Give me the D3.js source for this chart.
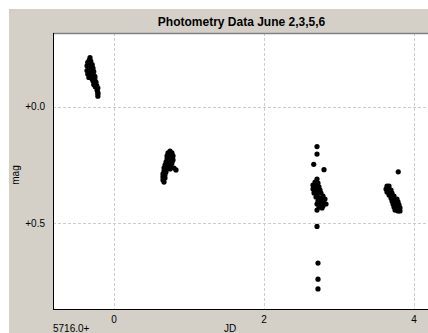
<!DOCTYPE html>
<html>
<head>
<meta charset="utf-8">
<script src="https://d3js.org/d3.v7.min.js"></script>
<style>
  html, body { margin: 0; padding: 0; background: #fff; }
  svg { display: block; }
</style>
</head>
<body>
<div id="chart"></div>
<script>
var id = '#chart'

var title = 'Photometry Data June 2,3,5,6'
var xTicks = [0, 2, 4]
var yTicks = [0.0, 0.5]
var yTickLabels = ['+0.0', '+0.5']
var xOffsetLabel = '5716.0+'
var xLabel = 'JD'
var yLabel = 'mag'

// [JD - 2455716.0, mag]
var june2 = [[-0.32,-0.21],[-0.33,-0.20],[-0.31,-0.195],[-0.35,-0.19],[-0.32,-0.185],[-0.29,-0.18],
  [-0.36,-0.175],[-0.335,-0.17],[-0.305,-0.165],[-0.28,-0.165],[-0.36,-0.155],[-0.335,-0.155],
  [-0.295,-0.15],[-0.27,-0.15],[-0.35,-0.14],[-0.31,-0.135],[-0.28,-0.135],[-0.255,-0.13],
  [-0.335,-0.125],[-0.295,-0.12],[-0.255,-0.12],[-0.28,-0.11],[-0.24,-0.105],[-0.27,-0.095],
  [-0.23,-0.09],[-0.25,-0.085],[-0.215,-0.08],[-0.225,-0.07],[-0.215,-0.06],[-0.215,-0.055],[-0.215,-0.045]]

var june3 = [[0.747,0.190],[0.72,0.198],[0.773,0.198],[0.707,0.211],[0.747,0.211],[0.787,0.211],
  [0.707,0.224],[0.747,0.224],[0.787,0.228],[0.693,0.237],[0.733,0.237],[0.773,0.241],
  [0.68,0.250],[0.72,0.250],[0.76,0.254],[0.80,0.263],[0.827,0.271],[0.667,0.263],
  [0.707,0.263],[0.747,0.267],[0.667,0.276],[0.693,0.280],[0.653,0.288],[0.68,0.293],
  [0.653,0.301],[0.68,0.306],[0.653,0.314],[0.667,0.323]]

var june5 = [[2.707,0.171],[2.707,0.203],[2.663,0.247],[2.80,0.270],
  [2.707,0.310],[2.68,0.323],[2.72,0.327],[2.653,0.336],[2.693,0.340],[2.733,0.344],
  [2.653,0.353],[2.693,0.357],[2.747,0.357],[2.667,0.370],[2.707,0.374],[2.76,0.370],
  [2.787,0.383],[2.693,0.387],[2.733,0.391],[2.773,0.396],[2.813,0.396],[2.72,0.404],
  [2.76,0.408],[2.80,0.413],[2.827,0.417],[2.707,0.417],[2.747,0.421],[2.787,0.426],
  [2.733,0.430],[2.773,0.434],[2.707,0.443],
  [2.707,0.513],[2.72,0.670],[2.72,0.739],[2.72,0.781]]

var june6 = [[3.79,0.279],
  [3.64,0.340],[3.667,0.340],[3.627,0.353],[3.667,0.353],[3.693,0.357],[3.64,0.366],
  [3.68,0.366],[3.707,0.370],[3.667,0.378],[3.707,0.378],[3.733,0.383],[3.693,0.391],
  [3.733,0.396],[3.773,0.396],[3.707,0.404],[3.747,0.408],[3.787,0.408],[3.72,0.417],
  [3.76,0.421],[3.80,0.421],[3.733,0.430],[3.773,0.434],[3.813,0.434],[3.747,0.443],
  [3.787,0.447],[3.813,0.447]]

var nights = [june2, june3, june5, june6]

var W = 428, H = 333
var plot = {left: 53, top: 33, right: 430, bottom: 309}
var font = '"Liberation Sans", Arial, sans-serif'

var x = d3.scaleLinear().domain([-0.8133, 4.2133]).range([plot.left, plot.right])
var y = d3.scaleLinear().domain([-0.3157, 0.867]).range([plot.top, plot.bottom])

var svg = d3.select(id).append('svg')
  .attr('width', W)
  .attr('height', H)

svg.append('rect')
  .attr('x', 9).attr('y', 9)
  .attr('width', W - 9).attr('height', H - 9)
  .style('fill', '#d4d0c8')

svg.append('rect')
  .attr('x', plot.left).attr('y', plot.top)
  .attr('width', plot.right - plot.left).attr('height', plot.bottom - plot.top)
  .style('fill', '#fff')

// grid
svg.selectAll('.vgrid')
  .data(xTicks)
  .enter().append('line')
  .attr('class', 'vgrid')
  .attr('x1', d => Math.round(x(d)) + 0.5).attr('x2', d => Math.round(x(d)) + 0.5)
  .attr('y1', plot.top).attr('y2', plot.bottom)
  .style('stroke', '#cccccc')
  .style('stroke-dasharray', '3,2')

svg.selectAll('.hgrid')
  .data(yTicks)
  .enter().append('line')
  .attr('class', 'hgrid')
  .attr('x1', plot.left).attr('x2', plot.right)
  .attr('y1', d => Math.round(y(d)) + 0.5).attr('y2', d => Math.round(y(d)) + 0.5)
  .style('stroke', '#cccccc')
  .style('stroke-dasharray', '3,2')

// points
var g = svg.append('g')
nights.forEach(function(night) {
  g.selectAll(null)
    .data(night)
    .enter().append('circle')
    .attr('cx', d => x(d[0]))
    .attr('cy', d => y(d[1]))
    .attr('r', 2.6)
    .style('fill', '#000')
})

// frame
svg.append('line')
  .attr('x1', plot.left).attr('x2', plot.right)
  .attr('y1', plot.top + 0.5).attr('y2', plot.top + 0.5)
  .style('stroke', '#808080').style('stroke-width', 1.5)
svg.append('line')
  .attr('x1', plot.left + 0.5).attr('x2', plot.left + 0.5)
  .attr('y1', plot.top).attr('y2', plot.bottom)
  .style('stroke', '#000')
svg.append('line')
  .attr('x1', plot.left).attr('x2', plot.right)
  .attr('y1', plot.bottom + 0.5).attr('y2', plot.bottom + 0.5)
  .style('stroke', '#000')

// texts
svg.append('text')
  .attr('x', (plot.left + plot.right) / 2)
  .attr('y', 26)
  .attr('text-anchor', 'middle')
  .style('font-family', font)
  .style('font-size', '12px')
  .style('font-weight', 'bold')
  .text(title)

svg.selectAll('.xlab')
  .data(xTicks)
  .enter().append('text')
  .attr('x', d => x(d))
  .attr('y', 323)
  .attr('text-anchor', 'middle')
  .style('font-family', font)
  .style('font-size', '10px')
  .text(d => d)

svg.selectAll('.ylab')
  .data(yTicks)
  .enter().append('text')
  .attr('x', 45)
  .attr('y', d => y(d))
  .attr('dy', '0.35em')
  .attr('text-anchor', 'end')
  .style('font-family', font)
  .style('font-size', '10px')
  .text((d, i) => yTickLabels[i])

svg.append('text')
  .attr('x', plot.left)
  .attr('y', 332)
  .style('font-family', font)
  .style('font-size', '10px')
  .text(xOffsetLabel)

svg.append('text')
  .attr('x', 230)
  .attr('y', 332)
  .attr('text-anchor', 'middle')
  .style('font-family', font)
  .style('font-size', '10px')
  .text(xLabel)

svg.append('text')
  .attr('transform', 'translate(19,175) rotate(-90)')
  .attr('text-anchor', 'middle')
  .style('font-family', font)
  .style('font-size', '10px')
  .text(yLabel)
</script>
</body>
</html>
